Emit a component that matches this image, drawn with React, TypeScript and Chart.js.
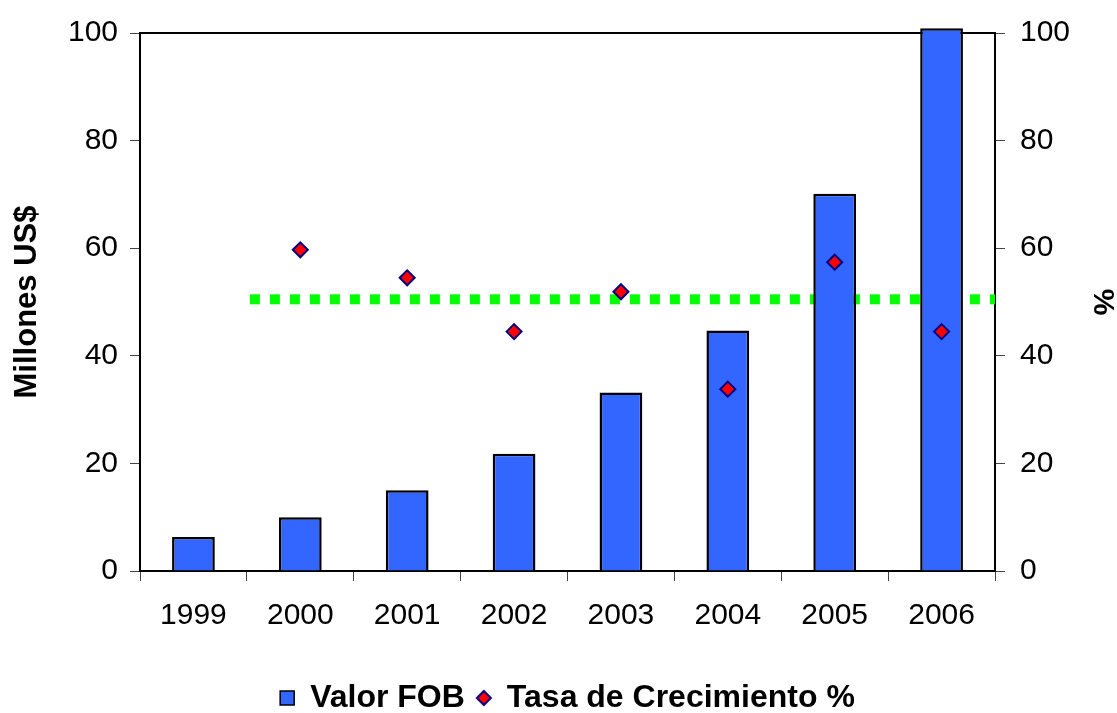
import React, { useEffect, useRef } from 'react';
import { Chart, registerables } from 'chart.js';

Chart.register(...registerables);

// ---- Data ----
const years = ['1999', '2000', '2001', '2002', '2003', '2004', '2005', '2006'];
const valorFob = [6.3, 10.0, 15.0, 21.8, 33.2, 44.7, 70.1, 100.9];
const tasaCrecimiento = [null, 59.7, 54.5, 44.5, 51.9, 33.8, 57.4, 44.5];
const promedioX = [1, 8];
const promedioY = [50.5, 50.5];
const yMin = 0;
const yMax = 100;
const yStep = 20;
const leftTitle = 'Millones US$';
const rightTitle = '%';
const legendFob = 'Valor FOB';
const legendTasa = 'Tasa de Crecimiento %';

const FONT = "'Liberation Sans', Arial, Helvetica, sans-serif";

export default function App() {
  const ref = useRef<HTMLCanvasElement | null>(null);

  useEffect(() => {
    document.body.style.margin = '0';
    const canvas = ref.current;
    if (!canvas) return;

    const diamond = document.createElement('canvas');
    diamond.width = 18;
    diamond.height = 18;
    const g = diamond.getContext('2d');
    if (g) {
      g.beginPath();
      g.moveTo(9, 2);
      g.lineTo(16, 9);
      g.lineTo(9, 16);
      g.lineTo(2, 9);
      g.closePath();
      g.fillStyle = '#FF0000';
      g.fill();
      g.lineWidth = 2;
      g.strokeStyle = '#000080';
      g.stroke();
    }

    const chart = new Chart(canvas, {
      type: 'bar',
      data: {
        labels: years,
        datasets: [
          {
            type: 'line',
            label: 'promedio',
            data: promedioX.map((x, i) => ({ x, y: promedioY[i] })),
            xAxisID: 'x2',
            yAxisID: 'y1',
            borderColor: '#00FF00',
            borderWidth: 10,
            borderDash: [10, 10],
            borderDashOffset: 17,
            borderCapStyle: 'butt',
            pointRadius: 0,
            fill: false,
            order: 3,
          } as any,
          {
            type: 'bar',
            label: legendFob,
            data: valorFob,
            xAxisID: 'x',
            yAxisID: 'y',
            backgroundColor: '#3366FF',
            borderColor: '#000000',
            borderWidth: 2.5,
            barPercentage: 0.4,
            categoryPercentage: 1.0,
            grouped: false,
            clip: false,
            order: 2,
          } as any,
          {
            type: 'line',
            label: legendTasa,
            data: tasaCrecimiento,
            xAxisID: 'x',
            yAxisID: 'y1',
            showLine: false,
            pointStyle: 'rectRot',
            pointRadius: 7.5,
            pointBorderWidth: 2,
            pointBackgroundColor: '#FF0000',
            pointBorderColor: '#000080',
            backgroundColor: '#FF0000',
            borderColor: '#000080',
            order: 1,
          } as any,
        ],
      },
      options: {
        responsive: false,
        animation: false,
        events: [],
        layout: { padding: { top: 0, bottom: -11, left: 0, right: 0 } },
        plugins: {
          tooltip: { enabled: false },
          title: { display: false },
          legend: {
            display: true,
            position: 'bottom',
            fullSize: false,
            onClick: () => {},
            labels: {
              usePointStyle: true,
              boxWidth: 14,
              boxHeight: 14,
              padding: 12,
              color: '#000',
              font: { family: FONT, size: 32, weight: 'bold' },
              generateLabels: () => [
                {
                  text: legendFob,
                  fillStyle: '#3366FF',
                  strokeStyle: '#000000',
                  lineWidth: 1.5,
                  pointStyle: 'rect',
                  hidden: false,
                  datasetIndex: 1,
                  fontColor: '#000',
                } as any,
                {
                  text: legendTasa,
                  fillStyle: '#FF0000',
                  strokeStyle: '#000080',
                  lineWidth: 0,
                  pointStyle: diamond,
                  hidden: false,
                  datasetIndex: 2,
                  fontColor: '#000',
                } as any,
              ],
            },
          },
        },
        scales: {
          x: {
            type: 'category',
            position: 'bottom',
            offset: true,
            grid: {
              display: true,
              offset: true,
              drawOnChartArea: false,
              drawTicks: true,
              tickLength: 10,
              color: '#444',
              lineWidth: 1,
            },
            border: { display: true, color: '#000', width: 2 },
            ticks: {
              color: '#000',
              padding: 17,
              maxRotation: 0,
              autoSkip: false,
              font: { family: FONT, size: 30 },
            },
            afterFit: (s: any) => {
              s.height = 99;
            },
          },
          x2: {
            type: 'linear',
            position: 'top',
            min: 0,
            max: 8,
            offset: false,
            display: true,
            grid: { display: false, drawTicks: false, offset: false },
            border: { display: true, color: '#000', width: 2 },
            ticks: { display: false },
            afterFit: (s: any) => {
              s.height = 28;
            },
          },
          y: {
            type: 'linear',
            position: 'left',
            min: yMin,
            max: yMax,
            grid: {
              display: true,
              drawOnChartArea: false,
              drawTicks: true,
              tickLength: 10,
              color: '#444',
              lineWidth: 1,
            },
            border: { display: true, color: '#000', width: 2 },
            ticks: {
              stepSize: yStep,
              color: '#000',
              padding: 12,
              font: { family: FONT, size: 30 },
            },
            title: {
              display: true,
              text: leftTitle,
              color: '#000',
              font: { family: FONT, size: 31, weight: 'bold', lineHeight: 1.2 },
              padding: { top: 9, bottom: 0 },
            },
            afterFit: (s: any) => {
              s.width = 140;
            },
          },
          y1: {
            type: 'linear',
            position: 'right',
            min: yMin,
            max: yMax,
            grid: {
              display: true,
              drawOnChartArea: false,
              drawTicks: true,
              tickLength: 10,
              color: '#444',
              lineWidth: 1,
            },
            border: { display: true, color: '#000', width: 2 },
            ticks: {
              stepSize: yStep,
              color: '#000',
              padding: 15,
              font: { family: FONT, size: 30 },
            },
            title: {
              display: true,
              text: rightTitle,
              color: '#000',
              font: { family: FONT, size: 30, weight: 'bold', lineHeight: 1 },
              padding: { top: 0, bottom: 0 },
            },
            afterFit: (s: any) => {
              s.width = 122;
            },
          },
        },
      },
    });

    return () => {
      chart.destroy();
    };
  }, []);

  return (
    <div style={{ position: 'absolute', left: 0, top: 0, width: 1117, height: 713, background: '#fff' }}>
      <canvas ref={ref} width={1117} height={713} style={{ display: 'block' }} />
    </div>
  );
}
